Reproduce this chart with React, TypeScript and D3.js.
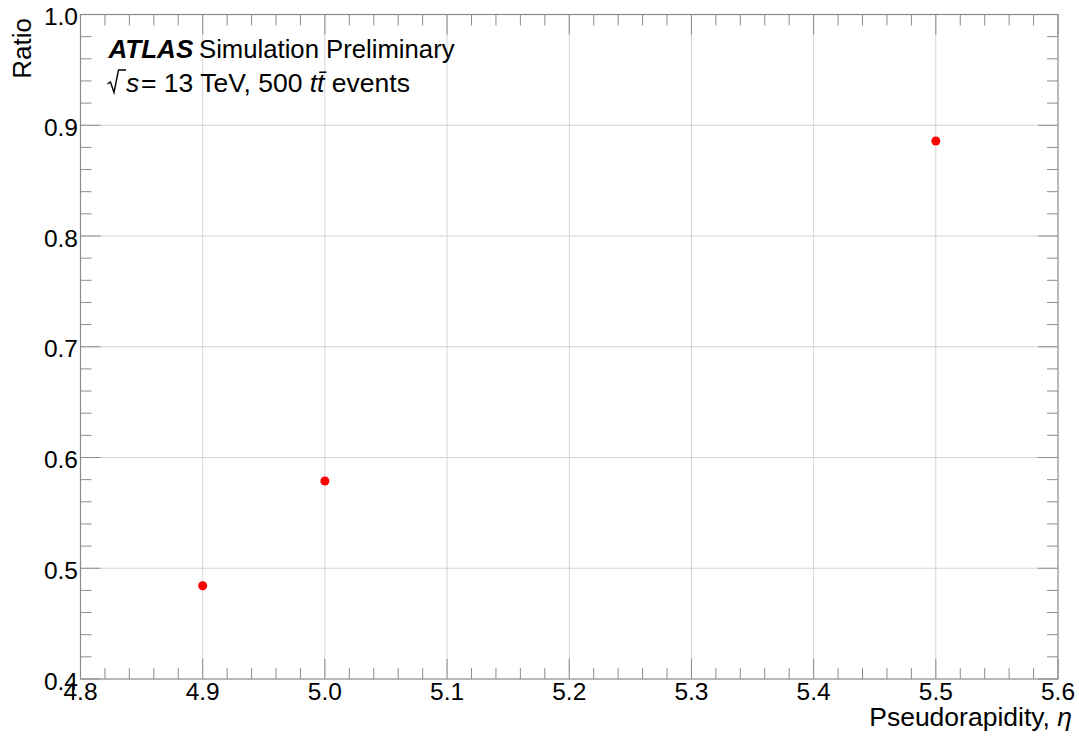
import React from "react";
import * as d3 from "d3";

const etaValues = [4.9, 5.0, 5.5];
const ratioValues = [0.4842, 0.5788, 0.8858];
const xTicks = [4.8, 4.9, 5.0, 5.1, 5.2, 5.3, 5.4, 5.5, 5.6];
const yTicks = [0.4, 0.5, 0.6, 0.7, 0.8, 0.9, 1.0];

const W = 1079;
const H = 737;
const M = { left: 80.5, right: 1058, top: 14.5, bottom: 679 };

export default function App() {
  const x = d3.scaleLinear().domain([4.8, 5.6]).range([M.left, M.right]);
  const y = d3.scaleLinear().domain([0.4, 1.0]).range([M.bottom, M.top]);

  const xMinor = d3.range(4.8, 5.6 + 1e-9, 0.02).map((v) => +v.toFixed(2));
  const yMinor = d3.range(0.4, 1.0 + 1e-9, 0.02).map((v) => +v.toFixed(2));
  const isMajor = (v: number) => Math.abs(v * 10 - Math.round(v * 10)) < 1e-6;

  const font = "'Liberation Sans', Arial, Helvetica, sans-serif";
  const axisColor = "#8c8c8c";
  const gridColor = "#d4d4d4";

  return (
    <svg
      width={W}
      height={H}
      style={{ position: "absolute", left: 0, top: 0, background: "#fff" }}
      fontFamily={font}
    >
      {/* grid */}
      {xTicks.slice(1, -1).map((t) => (
        <line key={"gx" + t} x1={x(t)} x2={x(t)} y1={M.top} y2={M.bottom} stroke={gridColor} strokeWidth={1} />
      ))}
      {yTicks.slice(1, -1).map((t) => (
        <line key={"gy" + t} x1={M.left} x2={M.right} y1={y(t)} y2={y(t)} stroke={gridColor} strokeWidth={1} />
      ))}

      {/* ticks on all four sides */}
      {xMinor.map((t) => {
        const len = isMajor(t) ? 20 : 11;
        return (
          <g key={"tx" + t}>
            <line x1={x(t)} x2={x(t)} y1={M.bottom} y2={M.bottom - len} stroke={axisColor} />
            <line x1={x(t)} x2={x(t)} y1={M.top} y2={M.top + len} stroke={axisColor} />
          </g>
        );
      })}
      {yMinor.map((t) => {
        const len = isMajor(t) ? 20 : 11;
        return (
          <g key={"ty" + t}>
            <line x1={M.left} x2={M.left + len} y1={y(t)} y2={y(t)} stroke={axisColor} />
            <line x1={M.right} x2={M.right - len} y1={y(t)} y2={y(t)} stroke={axisColor} />
          </g>
        );
      })}

      {/* frame */}
      <rect
        x={M.left}
        y={M.top}
        width={M.right - M.left}
        height={M.bottom - M.top}
        fill="none"
        stroke={axisColor}
        strokeWidth={1.2}
      />

      {/* tick labels */}
      {xTicks.map((t) => (
        <text key={"lx" + t} x={x(t)} y={M.bottom + 21} fontSize={24.5} textAnchor="middle" fill="#000">
          {t.toFixed(1)}
        </text>
      ))}
      {yTicks.map((t) => (
        <text key={"ly" + t} x={M.left - 2.5} y={y(t) + 10.5} fontSize={24.5} textAnchor="end" fill="#000">
          {t.toFixed(1)}
        </text>
      ))}

      {/* axis titles */}
      <text x={1072} y={726} fontSize={26.5} textAnchor="end" fill="#000">
        Pseudorapidity, <tspan fontStyle="italic">η</tspan>
      </text>
      <text
        transform="translate(31, 18) rotate(-90)"
        fontSize={26}
        textAnchor="end"
        fill="#000"
      >
        Ratio
      </text>

      {/* labels */}
      <text x={108.5} y={58} fontSize={26} fill="#000" fontWeight="bold" fontStyle="italic">
        ATLAS
      </text>
      <text x={199} y={58} fontSize={25.7} fill="#000">
        Simulation Preliminary
      </text>
      <g>
        <path d="M107.5,84 L110.5,82 L114,92.5 L118.5,70 L126,70" fill="none" stroke="#000" strokeWidth={1.4} />
        <text x={126} y={92} fontSize={26.5} fill="#000" fontStyle="italic">
          s
        </text>
        <text x={141} y={92} fontSize={26.5} fill="#000">
          = 13 TeV, 500 <tspan fontStyle="italic">t</tspan>
          <tspan fontStyle="italic">{"t\u0304"}</tspan> events
        </text>
      </g>

      {/* data points */}
      {etaValues.map((e, i) => (
        <circle key={"p" + i} cx={x(e)} cy={y(ratioValues[i])} r={4.5} fill="#ff0000" />
      ))}
    </svg>
  );
}
